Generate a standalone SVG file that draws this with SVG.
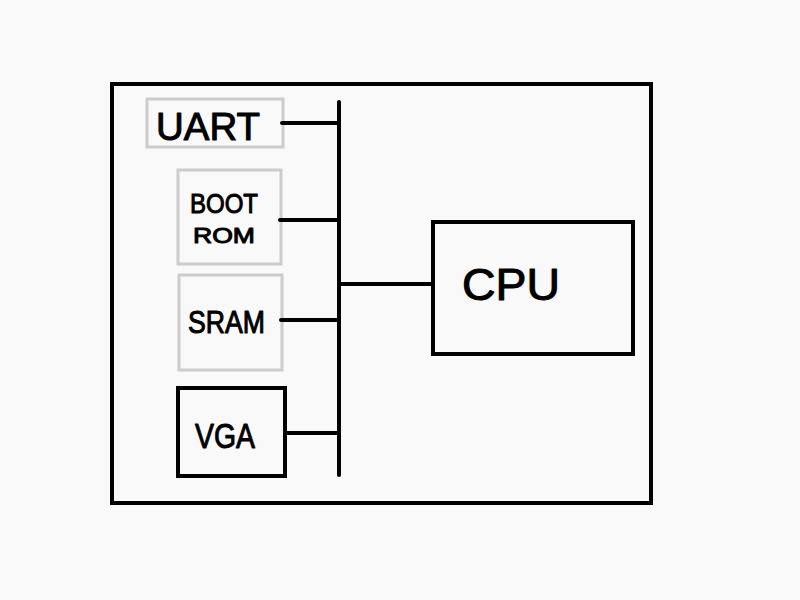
<svg xmlns="http://www.w3.org/2000/svg" width="800" height="600" viewBox="0 0 800 600">
<style>
.bg{fill:#f9f9f9}
.box{fill:none;stroke:#000;stroke-width:4}
.gbox{fill:none;stroke:#cccccc;stroke-width:3}
.wire{stroke:#000;stroke-width:4;stroke-linecap:round;fill:none}
.t{font-family:"Liberation Sans",Arial,sans-serif;fill:#000;stroke:#000;stroke-width:1;stroke-linejoin:round}
</style>
<rect class="bg" x="0" y="0" width="800" height="600"/>
<g id="chip"><rect class="box" x="112" y="84" width="539" height="419"/></g>
<g id="uart"><rect class="gbox" x="147" y="99" width="136" height="48"/><text class="t" x="156" y="140" font-size="38" textLength="104" lengthAdjust="spacingAndGlyphs">UART</text></g>
<g id="bootrom"><rect class="gbox" x="178" y="170" width="103" height="94"/><text class="t" x="190" y="213" font-size="28" textLength="68" lengthAdjust="spacingAndGlyphs">BOOT</text><text class="t" x="193" y="243" font-size="22" textLength="62" lengthAdjust="spacingAndGlyphs">ROM</text></g>
<g id="sram"><rect class="gbox" x="179" y="275" width="103" height="95"/><text class="t" x="188" y="333" font-size="31" textLength="77" lengthAdjust="spacingAndGlyphs">SRAM</text></g>
<g id="vga"><rect class="box" x="178" y="388" width="107" height="88"/><text class="t" x="195" y="448" font-size="35" textLength="60" lengthAdjust="spacingAndGlyphs">VGA</text></g>
<g id="cpu"><rect class="box" x="433" y="222" width="200" height="132"/><text class="t" x="462" y="300" font-size="45" textLength="98" lengthAdjust="spacingAndGlyphs">CPU</text></g>
<g id="connectors">
<line class="wire" x1="339" y1="102" x2="339" y2="475"/>
<line class="wire" x1="282" y1="123" x2="339" y2="123"/>
<line class="wire" x1="280" y1="220" x2="339" y2="220"/>
<line class="wire" x1="281" y1="320" x2="339" y2="320"/>
<line class="wire" x1="285" y1="433" x2="339" y2="433"/>
<line class="wire" x1="339" y1="284" x2="433" y2="284"/>
</g>
</svg>
